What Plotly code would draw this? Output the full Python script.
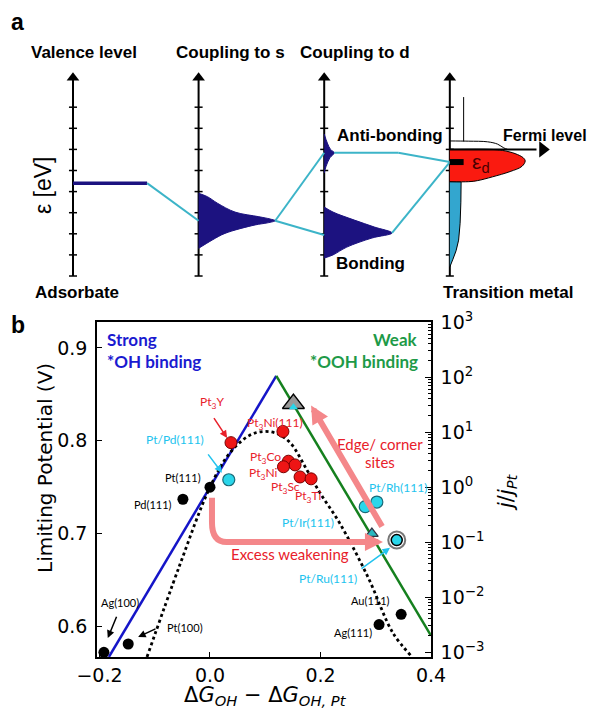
import plotly.graph_objects as go

W, H = 590, 711

# ---------------- Panel a : schematic (x = column units, y = energy in tick units)
COLUMNS = [0, 1, 2, 3]
COLUMN_TITLES = ["Valence level", "Coupling to s", "Coupling to d"]
TITLE_X = [0.09, 1.25, 2.245]
ENERGY_TICKS = [0, 1, 2, 3, 4, 5, 6, 7, 8]
AXIS_TOP = 9.4
VALENCE_LEVEL = 4.4
VALENCE_END = 0.59
S_E = [3.92, 3.76, 3.45, 3.03, 2.81, 2.70, 2.62, 2.52, 2.42, 2.02, 1.71, 1.31]
S_W = [0.0, 0.07, 0.15, 0.29, 0.48, 0.57, 0.61, 0.55, 0.45, 0.21, 0.11, 0.0]
ANTI_E = [6.73, 6.3, 6.0, 5.84, 5.6, 5.2, 4.88]
ANTI_W = [0.0, 0.025, 0.05, 0.08, 0.045, 0.015, 0.0]
ANTI_LINE_END = 2.59
BOND_E = [3.27, 3.03, 2.65, 2.32, 2.04, 1.8, 1.37, 1.0, 0.85]
BOND_W = [0.0, 0.07, 0.24, 0.40, 0.54, 0.38, 0.18, 0.07, 0.0]
D_E = [6.0, 5.95, 5.8, 5.6, 5.45, 5.2, 4.95, 4.7, 4.52, 4.47]
D_W = [0.33, 0.42, 0.52, 0.585, 0.6, 0.575, 0.48, 0.34, 0.22, 0.15]
SP_E = [4.47, 3.5, 2.5, 1.7, 1.2, 0.8, 0.43]
SP_W = [0.09, 0.088, 0.082, 0.07, 0.05, 0.025, 0.0]
EMPTY_D_E = [6.40, 6.39, 6.36, 6.25, 6.07, 6.0]
EMPTY_D_W = [0.0, 0.15, 0.30, 0.38, 0.43, 0.46]
EMPTY_S_E = [8.48, 6.38]
EMPTY_S_W = 0.11
FERMI = 6.0
FERMI_END = 3.74
EPS_D = 5.4
EPS_D_BAR = 0.11

NAVY = "#1c1280"
CYANLINE = "#3cb4c8"

# ---------------- Panel b : data
BLUE_X = [-0.183, 0.12]
BLUE_Y = [0.567, 0.87]
GREEN_X = [0.12, 0.40]
GREEN_Y = [0.87, 0.59]
DOT_X = [-0.114, -0.056, 0.0, 0.036, 0.072, 0.096, 0.12, 0.145, 0.175, 0.199, 0.235, 0.286, 0.331, 0.366]
DOT_Y = [0.567, 0.664, 0.75, 0.787, 0.806, 0.81, 0.808, 0.798, 0.769, 0.744, 0.711, 0.653, 0.593, 0.567]

BLACK_X = [-0.192, -0.148, -0.049, 0.0, 0.346, 0.306]
BLACK_Y = [0.572, 0.581, 0.737, 0.75, 0.613, 0.602]
RED_X = [0.038, 0.132, 0.142, 0.154, 0.133, 0.163, 0.183]
RED_Y = [0.798, 0.81, 0.778, 0.774, 0.772, 0.761, 0.759]
CYAN_X = [0.034, 0.281, 0.302]
CYAN_Y = [0.758, 0.729, 0.734]
RU_X = [0.338]
RU_Y = [0.693]
TRI_BIG_X = [0.151]
TRI_BIG_Y = [0.84]
TRI_SMALL_X = [0.293]
TRI_SMALL_Y = [0.70]

BLACK_LABELS = [("Ag(100)", -0.163, 0.626), ("Pt(100)", -0.045, 0.599),
                ("Pd(111)", -0.103, 0.731), ("Pt(111)", -0.049, 0.760),
                ("Au(111)", 0.290, 0.628), ("Ag(111)", 0.259, 0.593)]
RED_LABELS = [("Pt<sub>3</sub>Y", 0.004, 0.841), ("Pt<sub>3</sub>Ni(111)", 0.118, 0.819),
              ("Pt<sub>3</sub>Co", 0.100, 0.782), ("Pt<sub>3</sub>Ni", 0.096, 0.765),
              ("Pt<sub>3</sub>Sc", 0.136, 0.750), ("Pt<sub>3</sub>Ti", 0.177, 0.740)]
CYAN_LABELS = [("Pt/Pd(111)", -0.063, 0.801), ("Pt/Rh(111)", 0.340, 0.750),
               ("Pt/Ir(111)", 0.177, 0.712), ("Pt/Ru(111)", 0.214, 0.652)]
# (tail_x, tail_y, head_x, head_y, colour)
SMALL_ARROWS = [(0.0054, 0.826, 0.031, 0.803, "#e8202a"),
                (-0.0054, 0.787, 0.0217, 0.7655, "#22c3ee"),
                (0.2715, 0.661, 0.3258, 0.6846, "#22c3ee"),
                (-0.168, 0.612, -0.185, 0.5875, "black"),
                (-0.096, 0.598, -0.130, 0.5886, "black")]
EDGE_ARROW = (0.313, 0.706, 0.183, 0.838)
WEAK_PATH = (0.0036, 0.7385, 0.712, 0.03, 0.691, 0.313)  # x0, y0, y_corner, x_corner, y1, x_head

X_TICKS = [-0.2, 0.0, 0.2, 0.4]
X_TICKTEXT = ["\u22120.2", "0.0", "0.2", "0.4"]
Y_TICKS = [0.6, 0.7, 0.8, 0.9]
Y_TICKTEXT = ["0.6", "0.7", "0.8", "0.9"]
J_EXPONENTS = [-3, -2, -1, 0, 1, 2, 3]
J_TICKS = [10.0 ** k for k in J_EXPONENTS]
J_TICKTEXT = ["10<sup>%s</sup>" % (str(k).replace("-", "\u2212")) for k in J_EXPONENTS]
J_MINOR = [m * 10.0 ** k for k in J_EXPONENTS[:-1] for m in range(2, 10)]

PINK = "#f4878a"
REDTXT = "#e8202a"
CYANTXT = "#22c3ee"
CYANFILL = "#2ad6ea"

fig = go.Figure()


def add_a(x, y, **kw):
    fig.add_trace(go.Scatter(x=x, y=y, xaxis="x3", yaxis="y3", hoverinfo="skip",
                             showlegend=False, **kw))


# --- panel a shapes
for c in COLUMNS:
    add_a([c, c], [0, AXIS_TOP], mode="lines", line=dict(color="black", width=2))
    add_a([c], [AXIS_TOP], mode="markers",
          marker=dict(symbol="triangle-up", size=11, color="black"))
    tx, ty = [], []
    for e in ENERGY_TICKS:
        tx += [c - 0.032, c + 0.032, None]
        ty += [e, e, None]
    add_a(tx, ty, mode="lines", line=dict(color="black", width=1.5))

# valence level
add_a([0, VALENCE_END], [VALENCE_LEVEL, VALENCE_LEVEL], mode="lines",
      line=dict(color=NAVY, width=3.5))

# coupling-to-s peak
s_tip_i = S_W.index(max(S_W))
add_a([1 + w for w in S_W], S_E, mode="lines", fill="toself", fillcolor=NAVY,
      line=dict(color=NAVY, width=1, shape="spline"))
# coupling-to-d anti-bonding / bonding
add_a([2 + w for w in ANTI_W], ANTI_E, mode="lines", fill="toself", fillcolor=NAVY,
      line=dict(color=NAVY, width=1, shape="spline"))
b_tip_i = BOND_W.index(max(BOND_W))
add_a([2 + w for w in BOND_W], BOND_E, mode="lines", fill="toself", fillcolor=NAVY,
      line=dict(color=NAVY, width=1, shape="spline"))
a_tip_i = ANTI_W.index(max(ANTI_W))

# connectors
s_tip = (1 + S_W[s_tip_i], S_E[s_tip_i])
anti_tip = (2 + ANTI_W[a_tip_i], ANTI_E[a_tip_i])
bond_tip = (2 + BOND_W[b_tip_i], BOND_E[b_tip_i])
segs = [((VALENCE_END, VALENCE_LEVEL), (1, S_E[s_tip_i])),
        (s_tip, (2, ANTI_E[a_tip_i])),
        (s_tip, (2, BOND_E[b_tip_i] - 0.1)),
        (anti_tip, (ANTI_LINE_END, ANTI_E[a_tip_i])),
        ((ANTI_LINE_END, ANTI_E[a_tip_i]), (3, EPS_D)),
        (bond_tip, (3, EPS_D))]
cx, cy = [], []
for (p, q) in segs:
    cx += [p[0], q[0], None]
    cy += [p[1], q[1], None]
add_a(cx, cy, mode="lines", line=dict(color=CYANLINE, width=2))

# transition metal: sp band (cyan) and d band (red)
add_a([3] + [3 + w for w in SP_W], [SP_E[0]] + SP_E, mode="lines", fill="toself",
      fillcolor="#33a6cf", line=dict(color="black", width=1))
add_a([3] + [3 + w for w in D_W] + [3], [D_E[0]] + D_E + [D_E[-1]], mode="lines",
      fill="toself", fillcolor="#fa1a10", line=dict(color="black", width=1, shape="spline"))
add_a([3 + w for w in EMPTY_D_W], EMPTY_D_E, mode="lines",
      line=dict(color="black", width=1, shape="spline"))
add_a([3 + EMPTY_S_W] * 2, EMPTY_S_E, mode="lines", line=dict(color="black", width=1))
# fermi level arrow
add_a([3, FERMI_END - 0.05], [FERMI, FERMI], mode="lines", line=dict(color="black", width=2))
add_a([FERMI_END], [FERMI], mode="markers",
      marker=dict(symbol="triangle-right", size=14, color="black"))
# eps_d bar
add_a([3, 3 + EPS_D_BAR], [EPS_D, EPS_D], mode="lines", line=dict(color="black", width=6))

ann = []


def a_text(t, x, y, size=17, bold=True, color="black", **kw):
    ann.append(dict(text=("<b>%s</b>" % t) if bold else t, x=x, y=y, xref="x3", yref="y3",
                    showarrow=False, font=dict(family="Liberation Sans, Arial", size=size,
                                               color=color), **kw))


for t, x in zip(COLUMN_TITLES, TITLE_X):
    a_text(t, x, 10.57)
a_text("Adsorbate", 0.03, -0.8)
a_text("Transition metal", 3.46, -0.8)
a_text("Anti-bonding", 2.52, 6.68)
a_text("Bonding", 2.37, 0.6)
a_text("Fermi level", 3.41, 6.68, size=16, xanchor="left")
a_text("\u03b5<sub>d</sub>", 3.25, 5.36, size=21, bold=False, color="#4a0000")
a_text("\u03b5 [eV]", -0.24, 4.3, size=23, bold=False, textangle=-90)
a_text("a", -0.44, 12.04, size=23)

# ---------------- panel b traces
fig.add_trace(go.Scatter(x=BLUE_X, y=BLUE_Y, mode="lines", line=dict(color="#1515c8", width=2.5),
                         showlegend=False, hoverinfo="skip"))
fig.add_trace(go.Scatter(x=GREEN_X, y=GREEN_Y, mode="lines", line=dict(color="#15801e", width=2.5),
                         showlegend=False, hoverinfo="skip"))
fig.add_trace(go.Scatter(x=DOT_X, y=DOT_Y, mode="lines",
                         line=dict(color="black", width=2.8, dash="dot", shape="spline"),
                         showlegend=False, hoverinfo="skip"))
fig.add_trace(go.Scatter(x=BLACK_X, y=BLACK_Y, mode="markers",
                         marker=dict(size=11, color="black"), showlegend=False, hoverinfo="skip"))
fig.add_trace(go.Scatter(x=RED_X, y=RED_Y, mode="markers",
                         marker=dict(size=12, color="#ee1515", line=dict(color="#700", width=1)),
                         showlegend=False, hoverinfo="skip"))
fig.add_trace(go.Scatter(x=CYAN_X, y=CYAN_Y, mode="markers",
                         marker=dict(size=12, color=CYANFILL, line=dict(color="#1a6a78", width=1.2)),
                         showlegend=False, hoverinfo="skip"))
fig.add_trace(go.Scatter(x=RU_X, y=RU_Y, mode="markers",
                         marker=dict(size=17, color="white", line=dict(color="#777", width=2)),
                         showlegend=False, hoverinfo="skip"))
fig.add_trace(go.Scatter(x=RU_X, y=RU_Y, mode="markers",
                         marker=dict(size=11, color=CYANFILL, line=dict(color="black", width=1.5)),
                         showlegend=False, hoverinfo="skip"))
fig.add_trace(go.Scatter(x=TRI_BIG_X, y=TRI_BIG_Y, mode="markers",
                         marker=dict(symbol="triangle-up", size=19, color="#999",
                                     line=dict(color="black", width=1.5)),
                         showlegend=False, hoverinfo="skip"))
fig.add_trace(go.Scatter(x=TRI_BIG_X, y=[TRI_BIG_Y[0] - 0.004], mode="markers",
                         marker=dict(symbol="triangle-up", size=8, color=CYANFILL),
                         showlegend=False, hoverinfo="skip"))
fig.add_trace(go.Scatter(x=TRI_SMALL_X, y=TRI_SMALL_Y, mode="markers",
                         marker=dict(symbol="triangle-up", size=11, color="#2ab8c0",
                                     line=dict(color="#334", width=1.2)),
                         showlegend=False, hoverinfo="skip"))
fig.add_trace(go.Scatter(x=[0.2], y=[1.0], yaxis="y2", mode="markers",
                         marker=dict(size=1, opacity=0), showlegend=False, hoverinfo="skip"))

LF = "Lato, Open Sans"


def b_text(t, x, y, size=11, color="black", **kw):
    ann.append(dict(text=t, x=x, y=y, xref="x", yref="y", showarrow=False,
                    font=dict(family=LF, size=size, color=color), **kw))


for t, x, y in BLACK_LABELS:
    b_text(t, x, y)
for t, x, y in RED_LABELS:
    b_text(t, x, y, size=12, color=REDTXT)
for t, x, y in CYAN_LABELS:
    b_text(t, x, y, size=12, color=CYANTXT)
b_text("<b>Strong</b>", -0.190, 0.909, size=17, color="#1a1ad0", xanchor="left")
b_text("<b>*OH binding</b>", -0.190, 0.885, size=17, color="#1a1ad0", xanchor="left")
b_text("<b>Weak</b>", 0.380, 0.909, size=17, color="#1e9a48", xanchor="right")
b_text("<b>*OOH binding</b>", 0.380, 0.885, size=17, color="#1e9a48", xanchor="right")
b_text("Edge/ corner", 0.308, 0.796, size=15, color=REDTXT)
b_text("sites", 0.308, 0.777, size=15, color=REDTXT)
b_text("Excess weakening", 0.145, 0.678, size=15, color=REDTXT)

for tx, ty, hx, hy, col in SMALL_ARROWS:
    ann.append(dict(text="", x=hx, y=hy, ax=tx, ay=ty, xref="x", yref="y", axref="x", ayref="y",
                    showarrow=True, arrowhead=2, arrowsize=1, arrowwidth=1.5, arrowcolor=col))
ex0, ey0, ex1, ey1 = EDGE_ARROW
ann.append(dict(text="", x=ex1, y=ey1, ax=ex0, ay=ey0, xref="x", yref="y", axref="x", ayref="y",
                showarrow=True, arrowhead=2, arrowsize=0.6, arrowwidth=6, arrowcolor=PINK))
wx0, wy0, wyc, wxc, wy1, wxh = WEAK_PATH
ann.append(dict(text="", x=wxh, y=wy1, ax=wxh - 0.06, ay=wy1, xref="x", yref="y", axref="x",
                ayref="y", showarrow=True, arrowhead=2, arrowsize=0.6, arrowwidth=6,
                arrowcolor=PINK))
shapes = [dict(type="path", xref="x", yref="y",
               path="M %f,%f L %f,%f Q %f,%f %f,%f L %f,%f" % (wx0, wy0, wx0, wyc, wx0, wy1,
                                                              wxc, wy1, wxh - 0.055, wy1),
               line=dict(color=PINK, width=6))]

# axis titles / panel letter
ann.append(dict(text="Limiting Potential (V)", x=45 / W, y=1 - 468 / H, xref="paper", yref="paper",
                xanchor="center", yanchor="middle", showarrow=False, textangle=-90,
                font=dict(family="DejaVu Sans", size=20, color="black")))
ann.append(dict(text="<i>j</i>/<i>j</i><sub><i>Pt</i></sub>", x=507 / W, y=1 - 492 / H,
                xref="paper", yref="paper", xanchor="center", yanchor="middle",
                showarrow=False, textangle=-90,
                font=dict(family="DejaVu Sans", size=21, color="black")))
ann.append(dict(text="\u0394<i>G</i><sub><i>OH</i></sub> \u2212 \u0394<i>G</i><sub><i>OH, Pt</i></sub>",
                x=265 / W, y=0.0, xref="paper", yref="paper", xanchor="center", yanchor="bottom",
                showarrow=False, font=dict(family="DejaVu Sans", size=21, color="black")))
ann.append(dict(text="<b>b</b>", x=18 / W, y=1 - 325 / H, xref="paper", yref="paper",
                xanchor="center", yanchor="middle", showarrow=False,
                font=dict(family="Liberation Sans, Arial", size=23, color="black")))

TF = dict(family="DejaVu Sans", size=19, color="black")
fig.update_layout(
    width=W, height=H, margin=dict(l=0, r=0, t=0, b=0),
    paper_bgcolor="white", plot_bgcolor="white", showlegend=False,
    xaxis=dict(domain=[97 / W, 431 / W], range=[-0.2045, 0.4], tickvals=X_TICKS,
               ticktext=X_TICKTEXT, ticks="inside", ticklen=5, tickcolor="black",
               showline=True, mirror=True, linecolor="black", linewidth=1.5,
               showgrid=False, zeroline=False, tickfont=TF, anchor="y", automargin=False),
    yaxis=dict(domain=[1 - 657 / H, 1 - 322 / H], range=[0.567, 0.928], tickvals=Y_TICKS,
               ticktext=Y_TICKTEXT, ticks="inside", ticklen=5,
               tickcolor="black", showline=True, mirror=True, linecolor="black",
               linewidth=1.5, showgrid=False, zeroline=False, tickfont=TF, anchor="x",
               automargin=False, ticklabelstandoff=4),
    yaxis2=dict(overlaying="y", side="right", anchor="x", type="log", range=[-3.09, 3.0],
                tickvals=J_TICKS, ticktext=J_TICKTEXT, ticks="inside", ticklen=6,
                tickcolor="black", showline=True, linecolor="black", linewidth=1.5,
                showgrid=False, zeroline=False, tickfont=TF, automargin=False,
                ticklabelstandoff=4,
                minor=dict(tickmode="array", tickvals=J_MINOR, ticks="inside", ticklen=3,
                           tickwidth=1, tickcolor="black", showgrid=False)),
    xaxis3=dict(domain=[0, 1], range=[-0.581, 4.116], visible=False, anchor="y3"),
    yaxis3=dict(domain=[1 - 310 / H, 1], range=[-1.611, 13.08], visible=False, anchor="x3"),
    annotations=ann, shapes=shapes,
)

fig.write_html("out.html")
